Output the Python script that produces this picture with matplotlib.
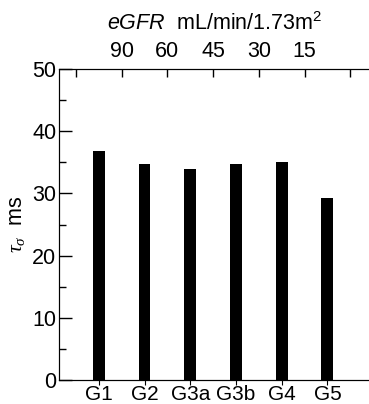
import matplotlib.pyplot as plt
import numpy as np

plt.rcParams['font.family'] = ['Liberation Sans', 'DejaVu Sans']
plt.rcParams['mathtext.fontset'] = 'custom'
plt.rcParams['mathtext.rm'] = 'Liberation Sans'
plt.rcParams['mathtext.it'] = 'Liberation Sans:italic'
plt.rcParams['mathtext.bf'] = 'Liberation Serif:italic'

# data
stages = ['G1', 'G2', 'G3a', 'G3b', 'G4', 'G5']
tau = [36.8, 34.8, 33.9, 34.7, 35.1, 29.3]
egfr_labels = ['', '90', '60', '45', '30', '15', '']

x = np.arange(1, len(stages) + 1)

fig = plt.figure(figsize=(3.69, 4.04), dpi=100)
ax = fig.add_axes([0.160, 0.0594, 0.845, 0.7698])

ax.bar(x, tau, width=0.26, color='black')

ax.set_xlim(0.13, 6.95)
ax.set_ylim(0, 50)
ax.set_xticks(x)
ax.set_xticklabels(stages, fontsize=15)
ax.tick_params(axis='x', bottom=False, pad=0)
ax.set_yticks(np.arange(0, 51, 10))
ax.set_yticks(np.arange(5, 50, 10), minor=True)
ax.tick_params(axis='y', direction='in', length=9, width=1, labelsize=15.5, pad=2)
ax.tick_params(axis='y', which='minor', direction='in', length=5, width=1)
ax.spines['right'].set_visible(False)
ax.set_ylabel(r'$\mathbf{\tau}_{\mathbf{\sigma}}$  ms', fontsize=15.5, labelpad=3)

# top eGFR axis, ticks at stage boundaries
top = ax.twiny()
top.set_xlim(ax.get_xlim())
top.set_xticks(np.arange(0.5, 7.0, 1.0))
top.set_xticklabels(egfr_labels, fontsize=15.5)
top.tick_params(axis='x', direction='in', length=6, width=1, pad=5)
top.spines['right'].set_visible(False)
top.set_xlabel(r'$\mathit{eGFR}$  mL/min/1.73m$^2$', fontsize=15.5, labelpad=8)

fig.savefig('out.png', dpi=100)
